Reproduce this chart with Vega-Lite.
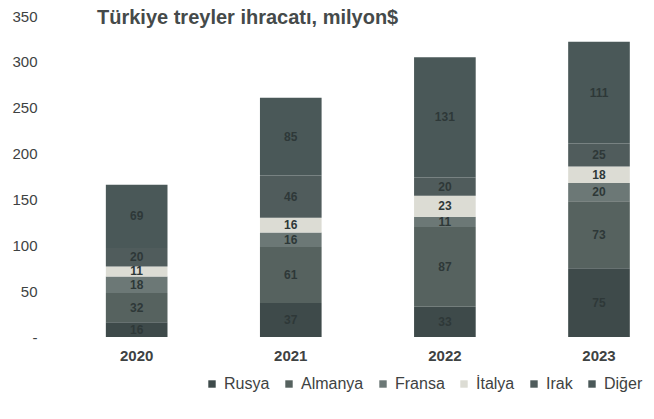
{
  "$schema": "https://vega.github.io/schema/vega-lite/v6.json",
  "width": 593,
  "height": 321,
  "autosize": {"type": "none"},
  "padding": {"left": 52, "top": 16, "right": 9, "bottom": 82},
  "background": "white",
  "config": {"view": {"stroke": null}, "font": "Liberation Sans"},
  "title": {"text": "Türkiye treyler ihracatı, milyon$", "anchor": "start", "frame": "group", "dx": 45, "offset": -19, "fontSize": 20, "fontWeight": "bold", "color": "#454a4a", "font": "Liberation Sans"},
  "data": {"values": [
    {"yil": "2020", "ulke": "Rusya", "sira": 1, "v": 16},
    {"yil": "2020", "ulke": "Almanya", "sira": 2, "v": 32},
    {"yil": "2020", "ulke": "Fransa", "sira": 3, "v": 18},
    {"yil": "2020", "ulke": "İtalya", "sira": 4, "v": 11},
    {"yil": "2020", "ulke": "Irak", "sira": 5, "v": 20},
    {"yil": "2020", "ulke": "Diğer", "sira": 6, "v": 69},
    {"yil": "2021", "ulke": "Rusya", "sira": 1, "v": 37},
    {"yil": "2021", "ulke": "Almanya", "sira": 2, "v": 61},
    {"yil": "2021", "ulke": "Fransa", "sira": 3, "v": 16},
    {"yil": "2021", "ulke": "İtalya", "sira": 4, "v": 16},
    {"yil": "2021", "ulke": "Irak", "sira": 5, "v": 46},
    {"yil": "2021", "ulke": "Diğer", "sira": 6, "v": 85},
    {"yil": "2022", "ulke": "Rusya", "sira": 1, "v": 33},
    {"yil": "2022", "ulke": "Almanya", "sira": 2, "v": 87},
    {"yil": "2022", "ulke": "Fransa", "sira": 3, "v": 11},
    {"yil": "2022", "ulke": "İtalya", "sira": 4, "v": 23},
    {"yil": "2022", "ulke": "Irak", "sira": 5, "v": 20},
    {"yil": "2022", "ulke": "Diğer", "sira": 6, "v": 131},
    {"yil": "2023", "ulke": "Rusya", "sira": 1, "v": 75},
    {"yil": "2023", "ulke": "Almanya", "sira": 2, "v": 73},
    {"yil": "2023", "ulke": "Fransa", "sira": 3, "v": 20},
    {"yil": "2023", "ulke": "İtalya", "sira": 4, "v": 18},
    {"yil": "2023", "ulke": "Irak", "sira": 5, "v": 25},
    {"yil": "2023", "ulke": "Diğer", "sira": 6, "v": 111}
  ]},
  "encoding": {
    "x": {"field": "yil", "type": "nominal", "title": null,
      "scale": {"paddingInner": 0.6, "paddingOuter": 0.224, "align": 0.78},
      "axis": {"labelAngle": 0, "domain": false, "ticks": false, "labelPadding": 11, "labelFontSize": 15, "labelFontWeight": "bold", "labelColor": "#3e4242"}}
  },
  "layer": [
    {
      "mark": {"type": "bar"},
      "encoding": {
        "y": {"field": "v", "type": "quantitative", "stack": "zero", "title": null,
          "scale": {"domain": [0, 350], "nice": false},
          "axis": {"values": [0, 50, 100, 150, 200, 250, 300, 350], "labelExpr": "datum.value == 0 ? '-   ' : datum.label", "domain": false, "ticks": false, "grid": false, "labelPadding": 15, "labelFontSize": 15, "labelColor": "#3e4242"}},
        "color": {"field": "ulke", "type": "nominal", "title": null,
          "sort": ["Rusya", "Almanya", "Fransa", "İtalya", "Irak", "Diğer"],
          "scale": {"domain": ["Rusya", "Almanya", "Fransa", "İtalya", "Irak", "Diğer"], "range": ["#3e4a4a", "#56625f", "#6c7876", "#dcdcd4", "#505c5c", "#4a5858"]},
          "legend": {"orient": "none", "direction": "horizontal", "legendX": 152, "legendY": 360, "symbolType": "square", "symbolSize": 55, "labelFontSize": 16, "labelColor": "#3e4242", "columnPadding": 11, "labelOffset": 4, "symbolStrokeWidth": 0}},
        "order": {"field": "sira", "type": "quantitative"}
      }
    },
    {
      "mark": {"type": "text", "fontSize": 12, "fontWeight": "bold", "color": "#2e3838"},
      "encoding": {
        "y": {"field": "v", "type": "quantitative", "stack": "zero", "bandPosition": 0.5},
        "detail": {"field": "ulke", "type": "nominal"},
        "order": {"field": "sira", "type": "quantitative"},
        "text": {"field": "v", "type": "quantitative"}
      }
    }
  ]
}
